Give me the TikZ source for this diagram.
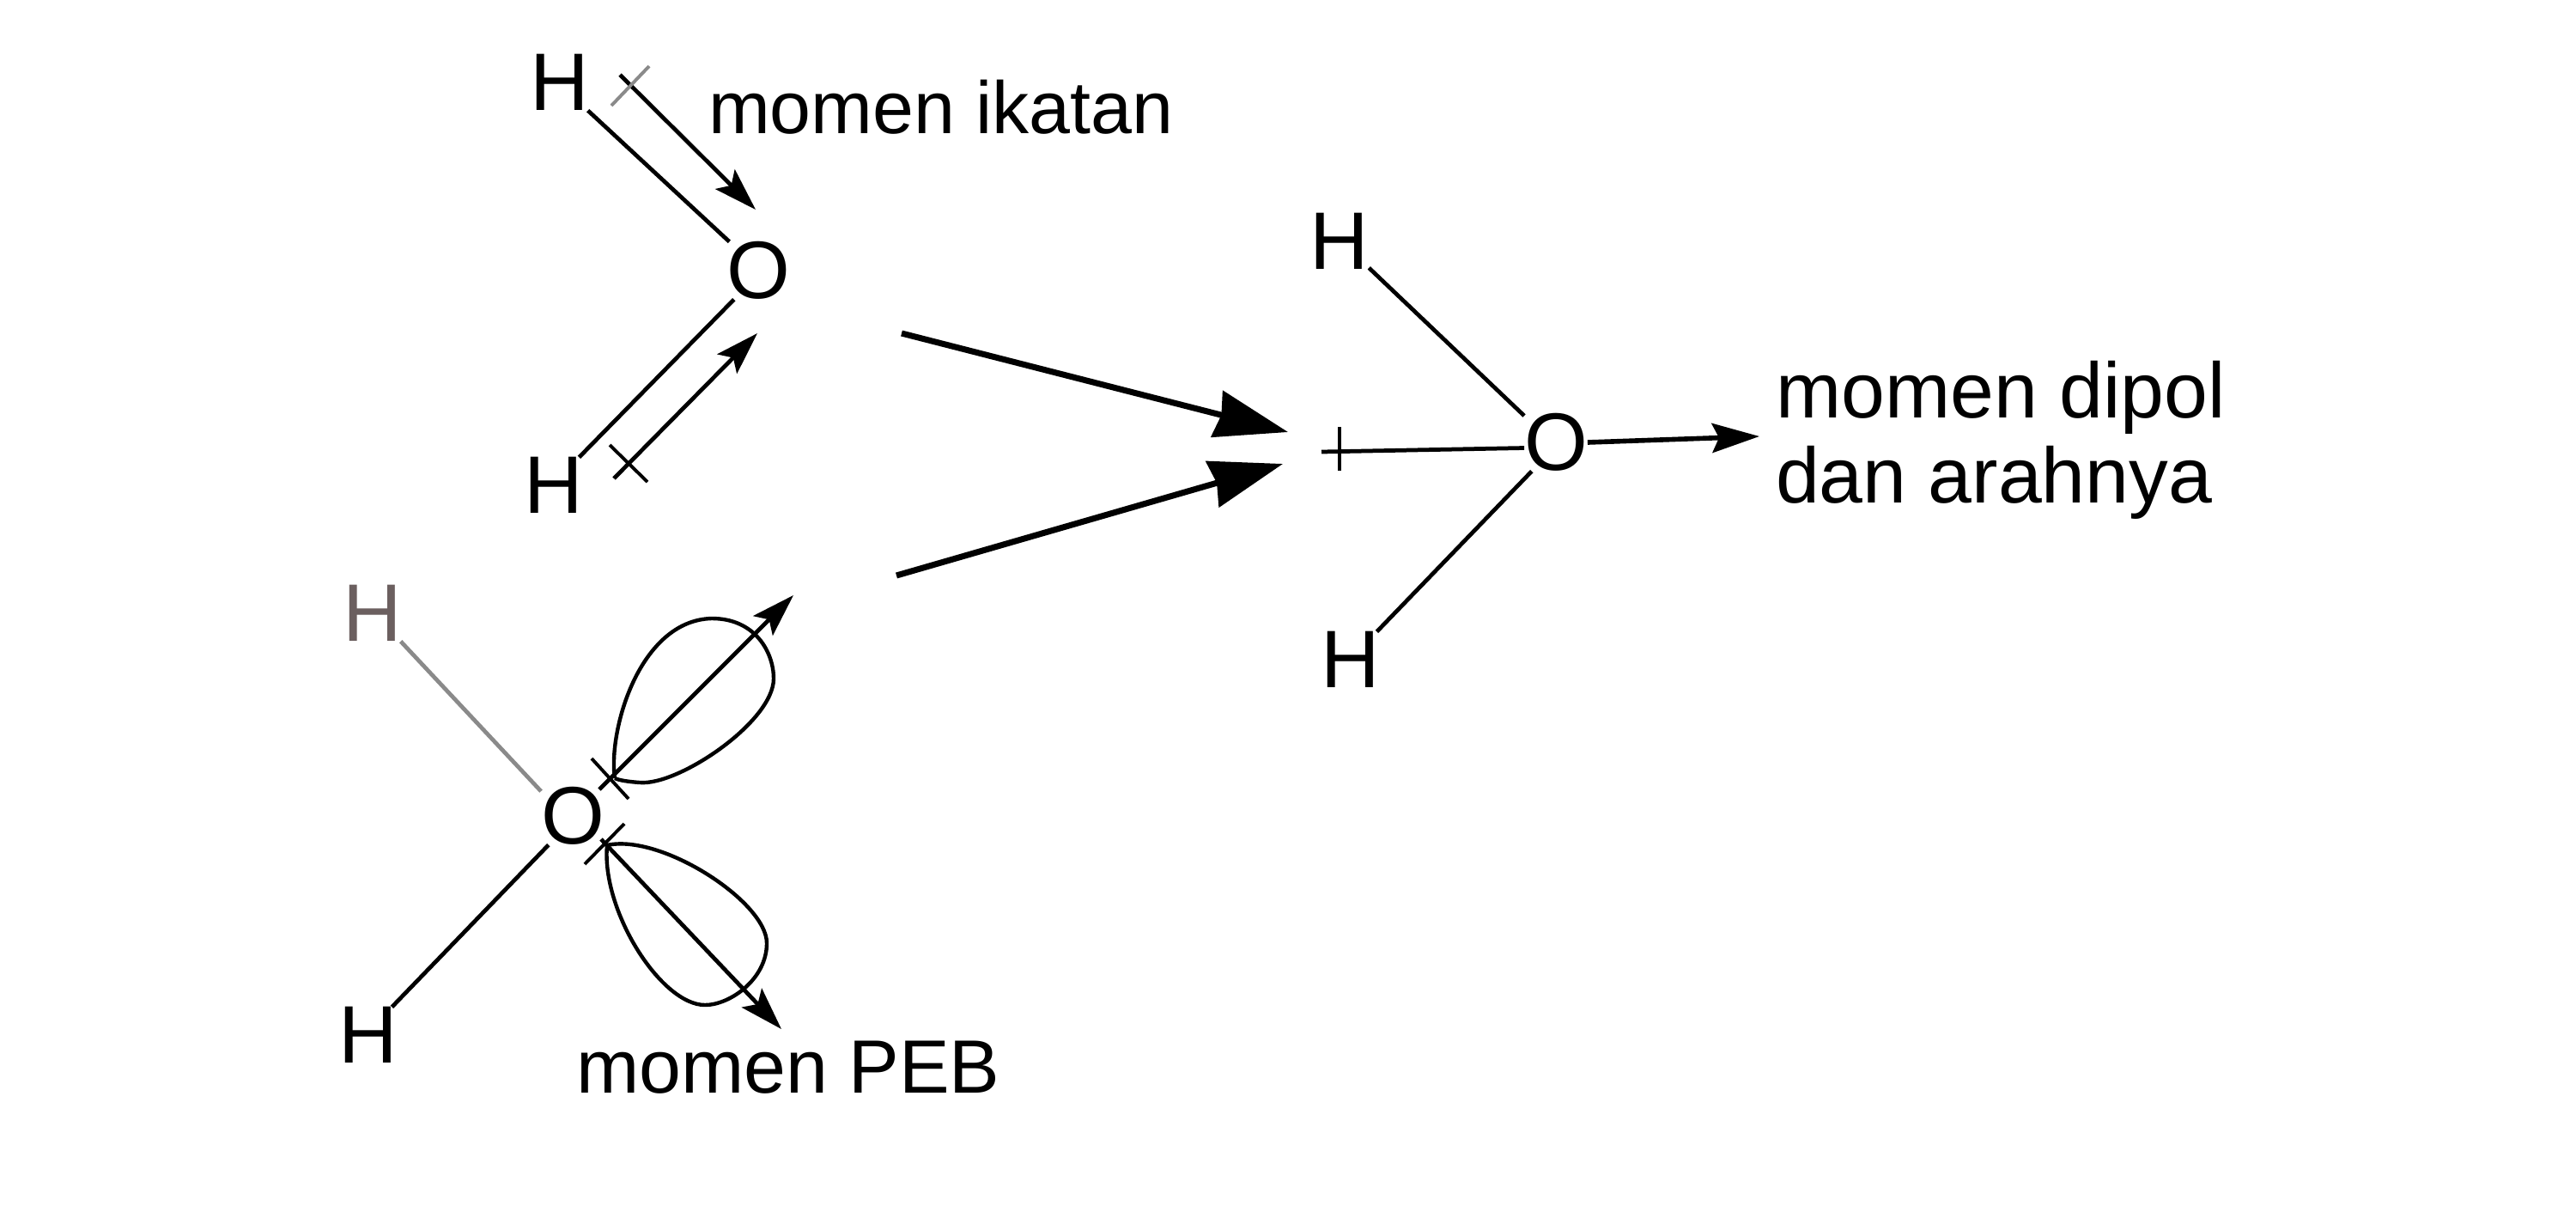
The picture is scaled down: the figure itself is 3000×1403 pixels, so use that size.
\documentclass[tikz,border=0pt]{standalone}
\usepackage{fontspec}
\setmainfont{Liberation Sans}
\usetikzlibrary{arrows.meta}
\definecolor{fadedink}{HTML}{6B5F5F}
\definecolor{fadedbond}{HTML}{8A8A8A}
\begin{document}
\begin{tikzpicture}[x=0.01cm,y=-0.01cm]
% Estilos para componentes
\tikzstyle{atom} = [inner sep=0pt, outer sep=0pt, font=\fontsize{27}{27}\selectfont]
\tikzstyle{caption} = [inner sep=0pt, outer sep=0pt, anchor=base west, align=left, font=\fontsize{25}{27.9}\selectfont]
\tikzstyle{bond} = [line width=1.35pt, black]
\tikzstyle{tick} = [line width=1.1pt, black]
\tikzstyle{lobe} = [line width=1.25pt, black]
\tikzstyle{moment} = [line width=1.35pt, black, -{Stealth[length=0.5cm, width=0.32cm, inset=0.1cm]}]
\tikzstyle{bigarrow} = [line width=2pt, black, -{Stealth[length=0.85cm, width=0.55cm, inset=0.05cm]}]
\useasboundingbox (0,0) rectangle (3000,1403);

% Molekul atas
\node[atom] (hydrogenA) at (652,96) {H};
\node[atom] (oxygenA) at (883,315) {O};
\node[atom] (hydrogenB) at (645,565) {H};
\draw[bond] (hydrogenA.-45) -- (oxygenA.135);
\draw[bond] (oxygenA.-130) -- (hydrogenB.48);

\coordinate (tailA) at (722,87);
\coordinate (tipA) at (880,244);
\draw[moment] (tailA) -- (tipA);
\coordinate (tickAa) at (756,77);
\coordinate (tickAb) at (712,123);
\draw[line width=1.1pt, fadedbond] (tickAa) -- (tickAb);

\coordinate (tailB) at (715,557);
\coordinate (tipB) at (882,388);
\draw[moment] (tailB) -- (tipB);
\coordinate (tickBa) at (710,518);
\coordinate (tickBb) at (754,561);
\draw[tick] (tickBa) -- (tickBb);

\node[caption, font=\fontsize{24.5}{27.9}\selectfont] (labelBond) at (825,155) {momen ikatan};

% Molekul bawah dengan PEB
\node[atom, text=fadedink] (hydrogenC) at (434,714) {H};
\node[atom] (oxygenB) at (667,950) {O};
\node[atom] (hydrogenD) at (429,1205) {H};
\draw[line width=1.35pt, fadedbond] (hydrogenC.-45) -- (oxygenB.142);
\draw[bond] (oxygenB.-130) -- (hydrogenD.50);

\draw[lobe] (716,906) .. controls (708,850) and (745,722) .. (829,720) .. controls (880,720) and (901,760) .. (901,790) .. controls (901,840) and (790,915) .. (745,911) .. controls (730,910) and (720,908) .. (716,906);
\draw[lobe] (707,984) .. controls (770,970) and (893,1050) .. (893,1098) .. controls (893,1140) and (850,1170) .. (821,1170) .. controls (770,1170) and (700,1060) .. (707,984);

\coordinate (tailC) at (698,919);
\coordinate (tipC) at (924,693);
\draw[moment] (tailC) -- (tipC);
\coordinate (tickCa) at (689,883);
\coordinate (tickCb) at (732,930);
\draw[tick] (tickCa) -- (tickCb);

\coordinate (tailD) at (700,977);
\coordinate (tipD) at (910,1198);
\draw[moment] (tailD) -- (tipD);
\coordinate (tickDa) at (727,959);
\coordinate (tickDb) at (681,1006);
\draw[tick] (tickDa) -- (tickDb);

\node[caption] (labelPair) at (671,1272) {momen PEB};

% Panah menuju resultan
\coordinate (startUpper) at (1050,388);
\coordinate (endUpper) at (1500,503);
\draw[bigarrow] (startUpper) -- (endUpper);
\coordinate (startLower) at (1044,670);
\coordinate (endLower) at (1494,540);
\draw[bigarrow] (startLower) -- (endLower);

% Molekul kanan
\node[atom] (hydrogenE) at (1560,281) {H};
\node[atom] (oxygenC) at (1812,515) {O};
\node[atom] (hydrogenF) at (1573,768) {H};
\draw[bond] (hydrogenE.-42) -- (oxygenC.140);
\draw[bond] (oxygenC.-130) -- (hydrogenF.47);

\coordinate (plusTail) at (1539,526);
\draw[bond] (plusTail) -- (oxygenC.190);
\coordinate (tickEa) at (1560,497);
\coordinate (tickEb) at (1560,548);
\draw[tick] (tickEa) -- (tickEb);
\coordinate (dipoleTip) at (2049,508);
\draw[line width=1.6pt, black, -{Stealth[length=0.55cm, width=0.34cm, inset=0.08cm]}] (oxygenC.east) -- (dipoleTip);

\node[caption, font=\fontsize{26}{27.9}\selectfont] (labelDipole) at (2068,585) {momen dipol\\dan arahnya};
\end{tikzpicture}
\end{document}
